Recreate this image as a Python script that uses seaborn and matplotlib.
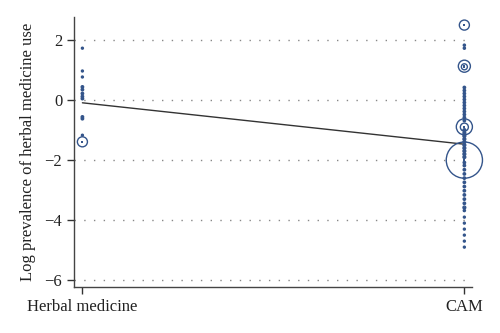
import numpy as np
import pandas as pd
import matplotlib
matplotlib.use("Agg")
import matplotlib.pyplot as plt
import seaborn as sns

categories = ["Herbal medicine", "CAM"]

herbal_vals = [1.73, 0.97, 0.77, 0.44, 0.35, 0.22, 0.12, 0.05, -0.56, -0.62, -1.17, -1.39]
herbal_wts = [1, 1, 1, 1.5, 1.5, 1.5, 1.5, 1.5, 1.5, 1.5, 1, 25]

cam_vals = [2.5, 1.83, 1.73, 1.13, 1.11, 0.42, 0.32, 0.22, 0.12, 0.02, -0.08, -0.18,
            -0.28, -0.38, -0.48, -0.58, -0.68, -0.89, -0.9, -1.0, -1.1, -1.2, -1.3,
            -1.4, -1.5, -1.6, -1.7, -1.8, -1.9, -2.0, -2.08, -2.18, -2.32, -2.46,
            -2.6, -2.74, -2.88, -3.02, -3.16, -3.3, -3.44, -3.58, -3.68, -3.9,
            -4.1, -4.3, -4.5, -4.7, -4.9]
cam_wts = [25, 1.2, 1.2, 36, 9, 1.5, 1.5, 1.5, 1.5, 1.5, 1.5, 1.5,
           1.5, 1.5, 1.5, 1.5, 1.5, 64, 16, 2, 2, 2, 2,
           2, 2, 2, 2, 2, 2, 324, 1.5, 1.5, 1.5, 1.5,
           1.5, 1.5, 1.5, 1.5, 1.5, 1.5, 1.5, 2, 1.2, 1,
           1, 1, 1, 1, 1]

fit_y = [-0.09, -1.47]

df = pd.DataFrame({
    "x": [0] * len(herbal_vals) + [1] * len(cam_vals),
    "y": herbal_vals + cam_vals,
    "w": herbal_wts + cam_wts,
})
fit_df = pd.DataFrame({"x": [0, 1], "y": fit_y})

sns.set_theme(style="white")
plt.rcParams["font.family"] = ["Liberation Serif", "DejaVu Serif"]

color = "#34558b"
fig = plt.figure(figsize=(5, 3.33), dpi=100)
ax = fig.add_axes([0.148, 0.138, 0.796, 0.811])

for yv in [2, 0, -2, -4, -6]:
    ax.axhline(yv, color="#888888", lw=1.0, ls=(0, (1, 6)), zorder=0)

sns.lineplot(data=fit_df, x="x", y="y", ax=ax, color="#333333", lw=1.0, zorder=2)

sns.scatterplot(data=df, x="x", y="y", size="w", sizes=(2, 680), size_norm=(1, 324),
                ax=ax, facecolor="none", edgecolor=color, linewidth=1.0,
                legend=False, zorder=3)
sns.scatterplot(data=df, x="x", y="y", ax=ax, color=color, s=3.5, linewidth=0,
                marker="s", legend=False, zorder=4)
for c in ax.collections:
    c.set_clip_on(False)

ax.set_xlim(-0.022, 1.02)
ax.set_ylim(-6.23, 2.77)
ax.set_xticks([0, 1])
ax.set_xticklabels(categories)
ax.set_yticks([2, 0, -2, -4, -6])
ax.set_yticklabels(["2", "0", "\u22122", "\u22124", "\u22126"])
ax.set_xlabel("")
ax.set_ylabel("Log prevalence of herbal medicine use", fontsize=12, color="#222222",
              labelpad=6)
ax.tick_params(axis="both", labelsize=12, colors="#333333", labelcolor="#222222",
               direction="out", length=5, width=1, left=True, bottom=True)
for s in ["top", "right"]:
    ax.spines[s].set_visible(False)
for s in ["left", "bottom"]:
    ax.spines[s].set_color("#444444")
    ax.spines[s].set_linewidth(1.0)

fig.savefig("out.png", dpi=100)
